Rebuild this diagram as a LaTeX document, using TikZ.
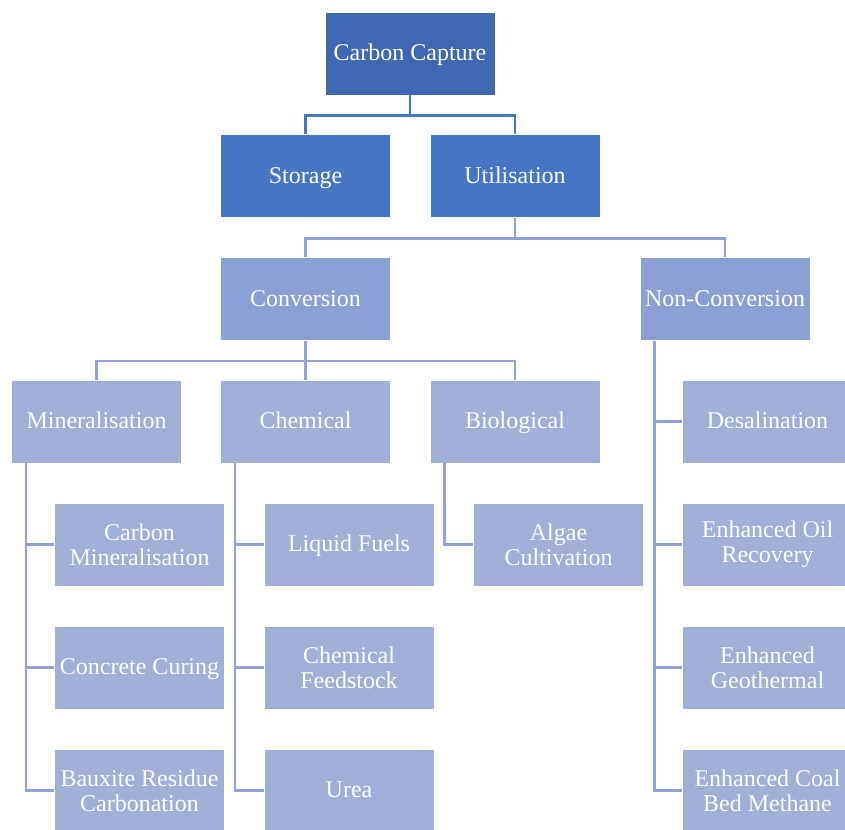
\documentclass[tikz,border=0pt]{standalone}
\usepackage{fontspec}
\setmainfont{Liberation Serif}
\usetikzlibrary{positioning}
\definecolor{topblue}{HTML}{3F68B2}
\definecolor{midblue}{HTML}{4775C5}
\definecolor{convblue}{HTML}{8A9FD3}
\definecolor{leafblue}{HTML}{A0AED8}
\begin{document}
\begin{tikzpicture}[x=1pt,y=-1pt,
tier box/.style={draw=white,line width=0.8pt,minimum width=170pt,minimum height=83pt,inner sep=2pt,text height=19pt,text depth=5pt,align=center,text=white,font=\fontsize{24}{25}\selectfont},
top box/.style={tier box,fill=topblue},
main box/.style={tier box,fill=midblue},
branch box/.style={tier box,fill=convblue},
leaf box/.style={tier box,fill=leafblue},
two lines/.style={text height=,text depth=},
link/.style={line width=2.5pt,draw=leafblue!92!blue},
top link/.style={line width=2.5pt,draw=midblue}]
\useasboundingbox (0,0) rectangle (845,829);
\clip (0,0) rectangle (845,829);
\node[top box] (cc) at (410,53.5) {Carbon Capture};
\node[main box] (st) at (305.5,176) {Storage};
\node[main box] (ut) at (515,176) {Utilisation};
\node[branch box] (conv) at (305.5,299) {Conversion};
\node[branch box] (nonc) at (725,299) {Non-Conversion};
\node[leaf box] (mine) at (96.5,421.5) {Mineralisation};
\node[leaf box] (chem) at (305.5,421.5) {Chemical};
\node[leaf box] (bio) at (515,421.5) {Biological};
% leaves
\node[leaf box,two lines] (cmin) at (139.5,544.5) {Carbon\\Mineralisation};
\node[leaf box] (ccur) at (139.5,667.5) {Concrete Curing};
\node[leaf box,two lines] (baux) at (139.5,790.5) {Bauxite Residue\\Carbonation};
\node[leaf box] (fuel) at (349,544.5) {Liquid Fuels};
\node[leaf box,two lines] (feed) at (349,667.5) {Chemical\\Feedstock};
\node[leaf box] (urea) at (349,790.5) {Urea};
\node[leaf box,two lines] (alga) at (558.5,544.5) {Algae\\Cultivation};
\node[leaf box] (desa) at (767.5,421.5) {Desalination};
\node[leaf box,two lines] (eor) at (767.5,544.5) {Enhanced Oil\\Recovery};
\node[leaf box,two lines] (geo) at (767.5,667.5) {Enhanced\\Geothermal};
\node[leaf box,two lines] (cbm) at (767.5,790.5) {Enhanced Coal\\Bed Methane};
% tree links
\draw[top link] (cc.south) -- ++(0,20) -| (st.north);
\draw[top link] (cc.south) -- ++(0,20) -| (ut.north);
\draw[link] (ut.south) -- ++(0,20.5) -| (conv.north);
\draw[link] (ut.south) -- ++(0,20.5) -| (nonc.north);
\draw[link] (conv.south) -- ++(0,20) -| (mine.north);
\draw[link] (conv.south) -- ++(0,20) -| (chem.north);
\draw[link] (conv.south) -- ++(0,20) -| (bio.north);
% side links
\foreach \leaf in {cmin,ccur,baux}
  \draw[link] ([xshift=15pt]mine.south west) |- (\leaf.west);
\foreach \leaf in {fuel,feed,urea}
  \draw[link] ([xshift=15pt]chem.south west) |- (\leaf.west);
\draw[link] ([xshift=15pt]bio.south west) |- (alga.west);
\foreach \leaf in {desa,eor,geo,cbm}
  \draw[link] ([xshift=15pt]nonc.south west) |- (\leaf.west);
\end{tikzpicture}
\end{document}
